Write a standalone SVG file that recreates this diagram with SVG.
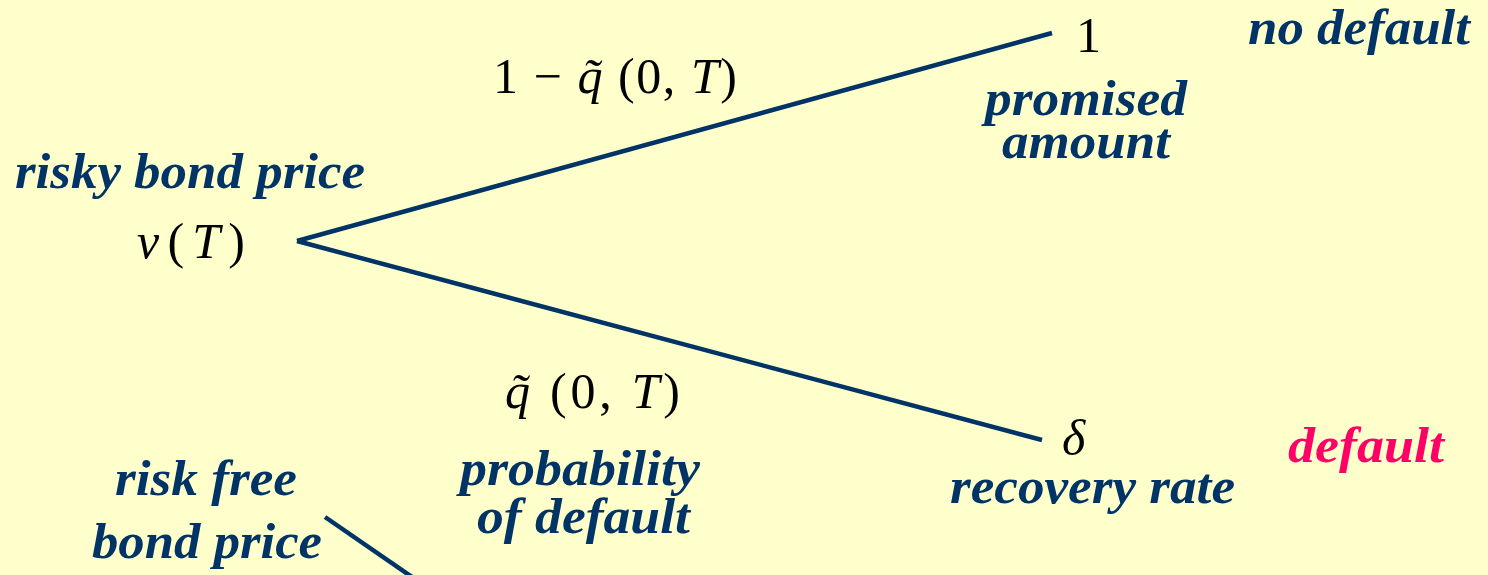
<svg xmlns="http://www.w3.org/2000/svg" width="1488" height="575" viewBox="0 0 1488 575">
<style>
.lbl{font-family:"Liberation Serif",serif;font-weight:bold;font-style:italic;font-size:50px;fill:#003366}
.math{font-family:"Liberation Serif",serif;font-size:50px;fill:#000000}
.it{font-style:italic}
.conn{stroke:#003366;stroke-width:4.5;fill:none;stroke-linecap:butt}
</style>
<rect width="1488" height="575" fill="#FFFFCC"/>
<g id="connectors">
<line class="conn" x1="297" y1="241" x2="1052" y2="33"/>
<line class="conn" x1="297" y1="241" x2="1042" y2="440"/>
<line class="conn" x1="325" y1="517" x2="412" y2="577"/>
</g>
<g id="risky">
<text class="lbl" x="15" y="188" textLength="350" lengthAdjust="spacingAndGlyphs">risky bond price</text>
<text class="math" x="137" y="258" textLength="108" lengthAdjust="spacing"><tspan class="it">v</tspan>(<tspan class="it">T</tspan>)</text>
</g>
<g id="up-prob">
<text class="math" x="493" y="93" textLength="244" lengthAdjust="spacing">1 − <tspan class="it">q̃</tspan> (0, <tspan class="it">T</tspan>)</text>
</g>
<g id="nodefault">
<text class="math" x="1076" y="52">1</text>
<text class="lbl" x="985" y="115" textLength="202" lengthAdjust="spacingAndGlyphs">promised</text>
<text class="lbl" x="1002" y="158" textLength="168" lengthAdjust="spacingAndGlyphs">amount</text>
<text class="lbl" x="1248" y="44" textLength="222" lengthAdjust="spacingAndGlyphs">no default</text>
</g>
<g id="down-prob">
<text class="math" x="505" y="408" textLength="175" lengthAdjust="spacing"><tspan class="it">q̃</tspan> (0, <tspan class="it">T</tspan>)</text>
<text class="lbl" x="460" y="485" textLength="240" lengthAdjust="spacingAndGlyphs">probability</text>
<text class="lbl" x="477" y="533" textLength="213" lengthAdjust="spacingAndGlyphs">of default</text>
</g>
<g id="default">
<text class="math it" x="1062" y="455">δ</text>
<text class="lbl" x="950" y="503" textLength="285" lengthAdjust="spacingAndGlyphs">recovery rate</text>
<text class="lbl" x="1288" y="462" textLength="156" lengthAdjust="spacingAndGlyphs" style="fill:#FF0066">default</text>
</g>
<g id="riskfree">
<text class="lbl" x="115" y="495" textLength="182" lengthAdjust="spacingAndGlyphs">risk free</text>
<text class="lbl" x="92" y="558" textLength="230" lengthAdjust="spacingAndGlyphs">bond price</text>
</g>
</svg>
